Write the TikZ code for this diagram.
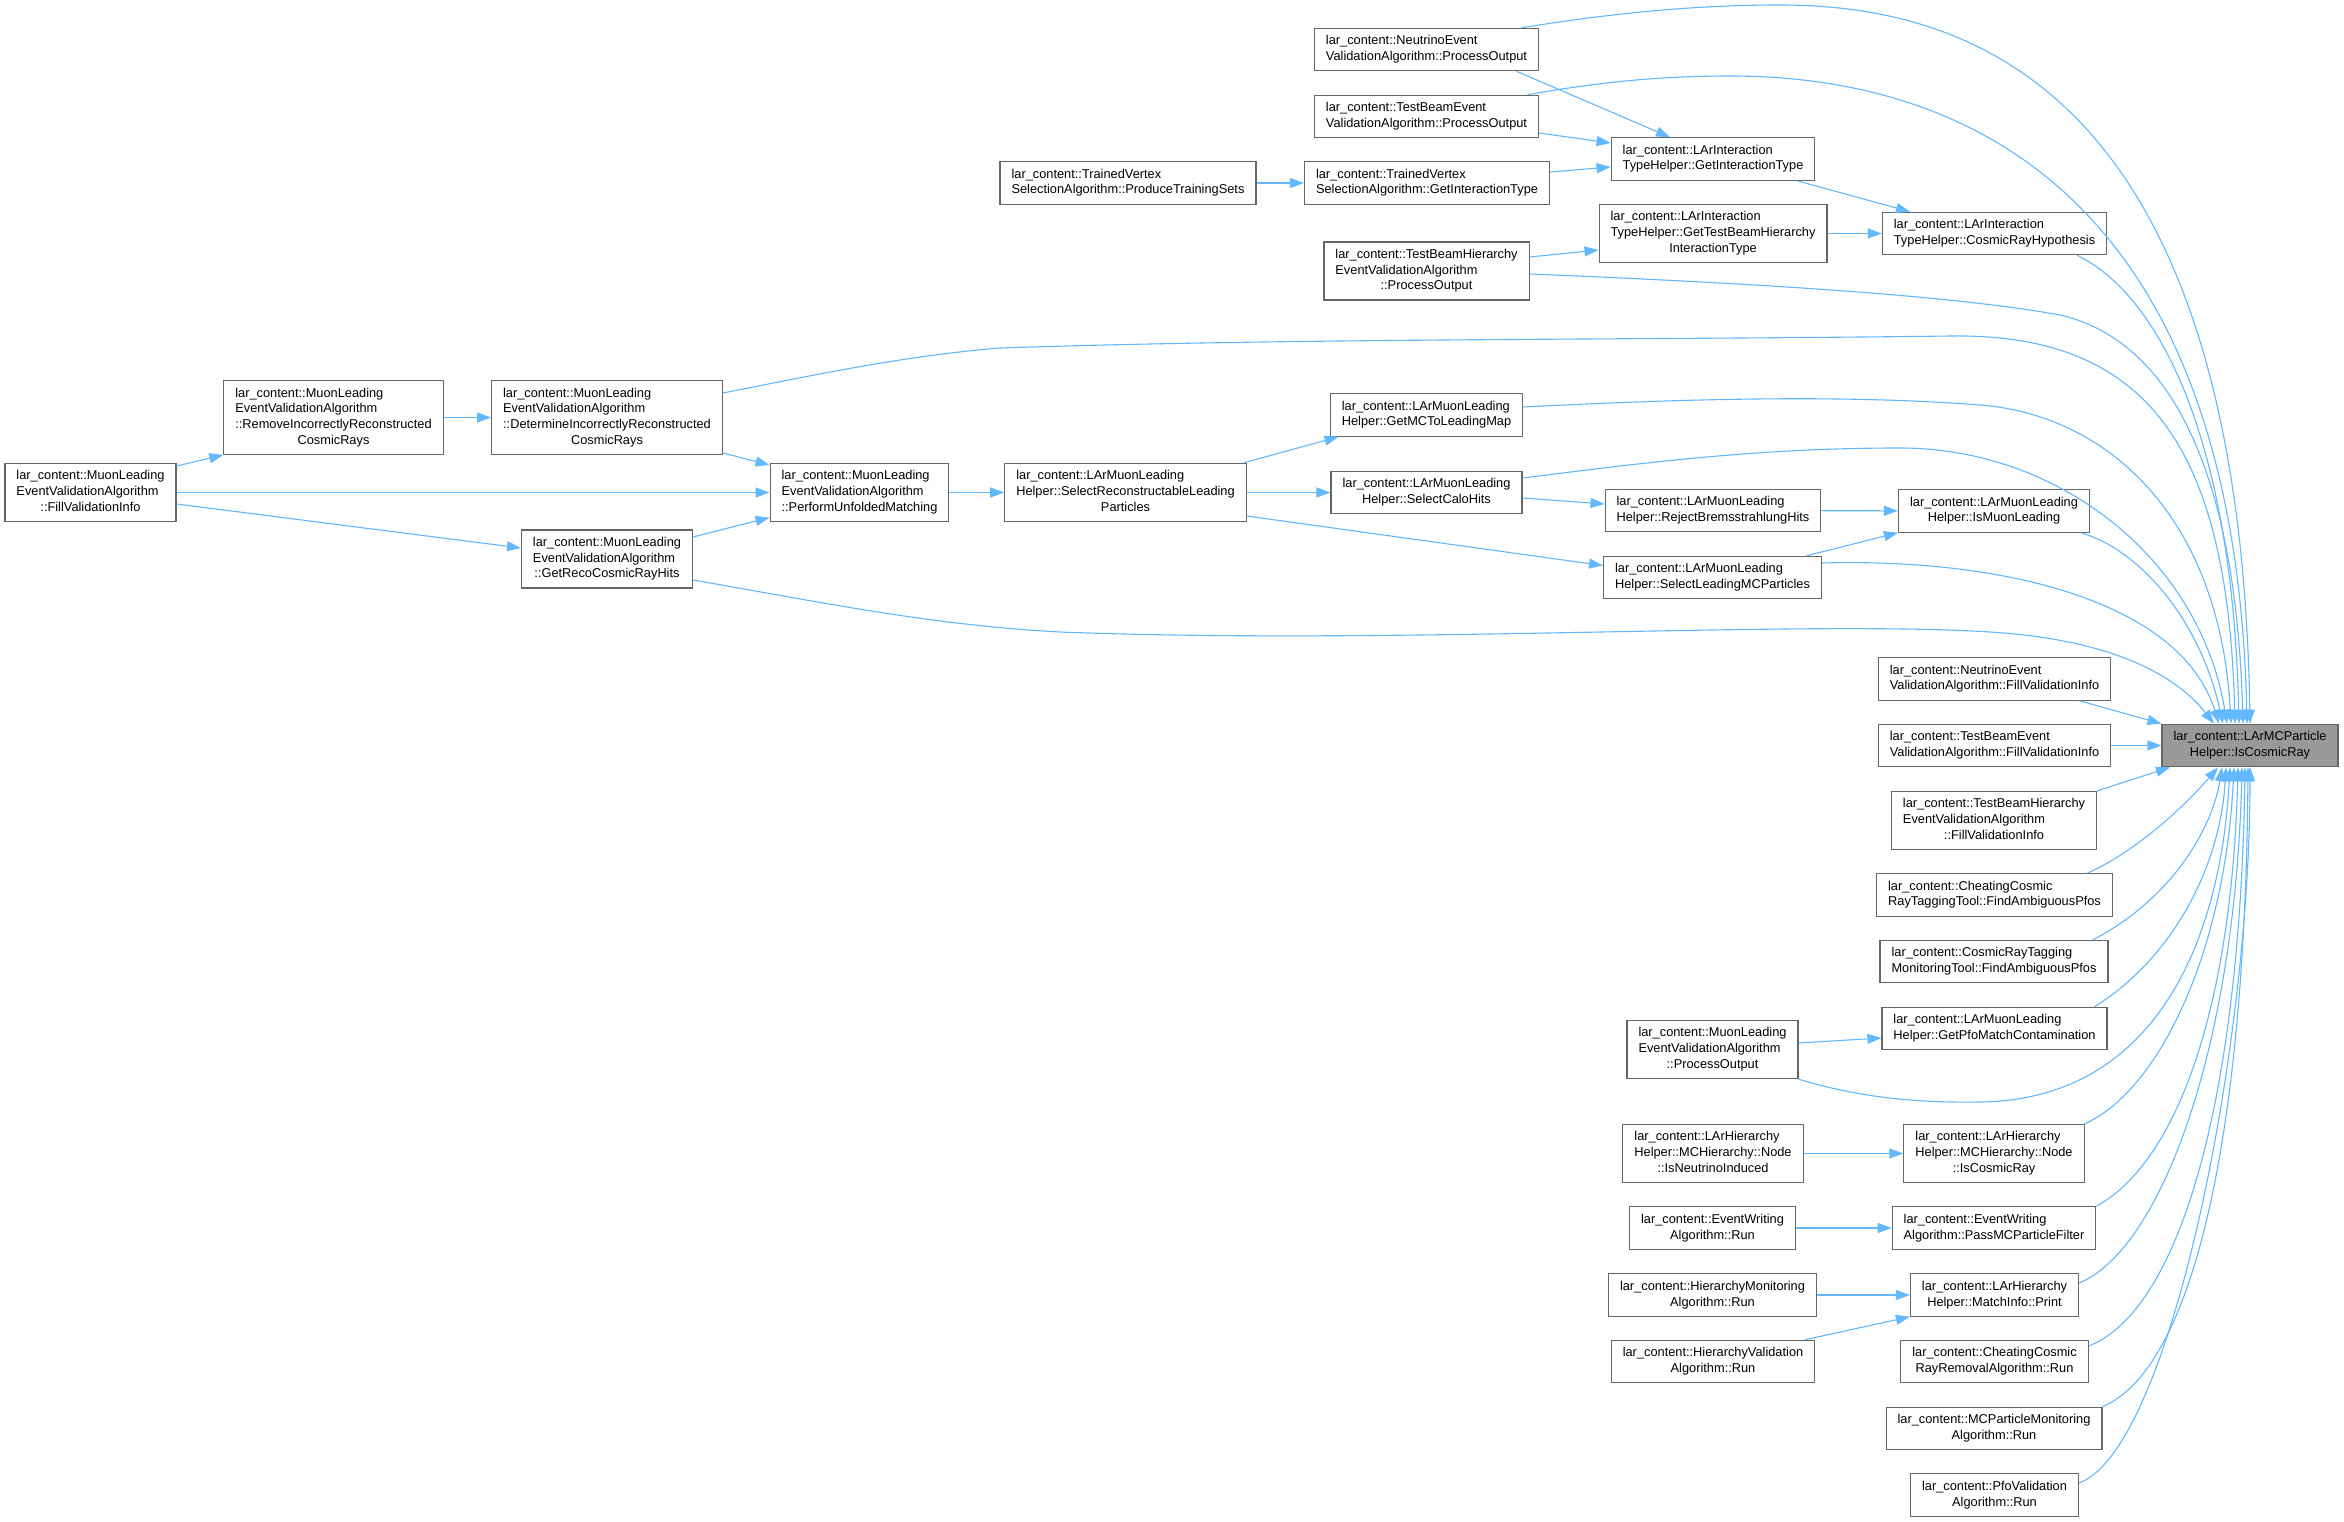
\documentclass[tikz,border=0pt]{standalone}
\usepackage{fontspec}
\setmainfont{Liberation Sans}
\usetikzlibrary{arrows.meta}
\definecolor{edgeblue}{HTML}{63B8FF}
\definecolor{boxgray}{HTML}{666666}
\definecolor{hitgray}{HTML}{999999}
\newcommand\lc{lar\_content::}
\newcommand\twolines[2]{\begin{tabular}{@{}l@{}}#1\\\multicolumn{1}{@{}c@{}}{#2}\end{tabular}}
\newcommand\threelines[3]{\begin{tabular}{@{}l@{}}#1\\#2\\\multicolumn{1}{@{}c@{}}{#3}\end{tabular}}
\newcommand\fourlines[4]{\begin{tabular}{@{}l@{}}#1\\#2\\#3\\\multicolumn{1}{@{}c@{}}{#4}\end{tabular}}

\begin{document}
\begin{tikzpicture}[
    x=1pt, y=-1pt,
    fnbox/.style={
      draw=boxgray, line width=1.15pt, fill=white,
      inner xsep=11.5pt, inner ysep=5.5pt,
      font=\fontsize{12.8}{15.7}\selectfont
    },
    hitbox/.style={fnbox, fill=hitgray},
    callarrow/.style={
      draw=edgeblue, line width=1.1pt,
      -{Triangle[length=14pt,width=10pt]}
    }
  ]
    \path[use as bounding box, fill=white] (0,0) rectangle (2344,1522);

    % the function itself
    \node[hitbox] (I) at (2250,745.5) {\twolines{\lc LArMCParticle}{Helper::IsCosmicRay}};

    % top block
    \node[fnbox] (nPO) at (1426.5,49.5) {\twolines{\lc NeutrinoEvent}{ValidationAlgorithm::ProcessOutput}};
    \node[fnbox] (tPO) at (1426.5,116.5) {\twolines{\lc TestBeamEvent}{ValidationAlgorithm::ProcessOutput}};
    \node[fnbox] (tvPT) at (1128,183) {\twolines{\lc TrainedVertex}{SelectionAlgorithm::ProduceTrainingSets}};
    \node[fnbox] (tvGIT) at (1427,183) {\twolines{\lc TrainedVertex}{SelectionAlgorithm::GetInteractionType}};
    \node[fnbox] (tbhPO) at (1426.5,271) {\threelines{\lc TestBeamHierarchy}{EventValidationAlgorithm}{::ProcessOutput}};
    \node[fnbox] (iGIT) at (1713,159) {\twolines{\lc LArInteraction}{TypeHelper::GetInteractionType}};
    \node[fnbox] (iGTB) at (1713,233.5) {\threelines{\lc LArInteraction}{TypeHelper::GetTestBeamHierarchy}{InteractionType}};
    \node[fnbox] (iCRH) at (1994.5,233.5) {\twolines{\lc LArInteraction}{TypeHelper::CosmicRayHypothesis}};

    % muon leading block
    \node[fnbox] (mRIR) at (333.5,417.5) {\fourlines{\lc MuonLeading}{EventValidationAlgorithm}{::RemoveIncorrectlyReconstructed}{CosmicRays}};
    \node[fnbox] (mDIR) at (607,417.5) {\fourlines{\lc MuonLeading}{EventValidationAlgorithm}{::DetermineIncorrectlyReconstructed}{CosmicRays}};
    \node[fnbox] (mFVI) at (90.5,492.5) {\threelines{\lc MuonLeading}{EventValidationAlgorithm}{::FillValidationInfo}};
    \node[fnbox] (mPUM) at (859.5,492.5) {\threelines{\lc MuonLeading}{EventValidationAlgorithm}{::PerformUnfoldedMatching}};
    \node[fnbox] (mGRC) at (607,559) {\threelines{\lc MuonLeading}{EventValidationAlgorithm}{::GetRecoCosmicRayHits}};
    \node[fnbox] (hSRL) at (1125.5,492.5) {\threelines{\lc LArMuonLeading}{Helper::SelectReconstructableLeading}{Particles}};
    \node[fnbox] (hGML) at (1426.5,415) {\twolines{\lc LArMuonLeading}{Helper::GetMCToLeadingMap}};
    \node[fnbox] (hSCH) at (1426.5,492.5) {\twolines{\lc LArMuonLeading}{Helper::SelectCaloHits}};
    \node[fnbox] (hRBH) at (1713,510.5) {\twolines{\lc LArMuonLeading}{Helper::RejectBremsstrahlungHits}};
    \node[fnbox] (hSLM) at (1712.5,577.5) {\twolines{\lc LArMuonLeading}{Helper::SelectLeadingMCParticles}};
    \node[fnbox] (hIML) at (1994,511) {\twolines{\lc LArMuonLeading}{Helper::IsMuonLeading}};

    % right column
    \node[fnbox] (nFVI) at (1994.5,679) {\twolines{\lc NeutrinoEvent}{ValidationAlgorithm::FillValidationInfo}};
    \node[fnbox] (tFVI) at (1994.5,745.5) {\twolines{\lc TestBeamEvent}{ValidationAlgorithm::FillValidationInfo}};
    \node[fnbox] (tbhFVI) at (1994,820.5) {\threelines{\lc TestBeamHierarchy}{EventValidationAlgorithm}{::FillValidationInfo}};
    \node[fnbox] (ccFAP) at (1994.5,895) {\twolines{\lc CheatingCosmic}{RayTaggingTool::FindAmbiguousPfos}};
    \node[fnbox] (crtFAP) at (1994,961.5) {\twolines{\lc CosmicRayTagging}{MonitoringTool::FindAmbiguousPfos}};
    \node[fnbox] (hPMC) at (1994.5,1028.5) {\twolines{\lc LArMuonLeading}{Helper::GetPfoMatchContamination}};
    \node[fnbox] (mPO) at (1712.5,1049.5) {\threelines{\lc MuonLeading}{EventValidationAlgorithm}{::ProcessOutput}};
    \node[fnbox] (lhNCR) at (1994,1153.5) {\threelines{\lc LArHierarchy}{Helper::MCHierarchy::Node}{::IsCosmicRay}};
    \node[fnbox] (lhNNI) at (1713,1153.5) {\threelines{\lc LArHierarchy}{Helper::MCHierarchy::Node}{::IsNeutrinoInduced}};
    \node[fnbox] (ewPMF) at (1994,1228) {\twolines{\lc EventWriting}{Algorithm::PassMCParticleFilter}};
    \node[fnbox] (ewRun) at (1712.5,1228) {\twolines{\lc EventWriting}{Algorithm::Run}};
    \node[fnbox] (lhMIP) at (1994.5,1295) {\twolines{\lc LArHierarchy}{Helper::MatchInfo::Print}};
    \node[fnbox] (hmRun) at (1712.5,1295) {\twolines{\lc HierarchyMonitoring}{Algorithm::Run}};
    \node[fnbox] (hvRun) at (1713,1361.5) {\twolines{\lc HierarchyValidation}{Algorithm::Run}};
    \node[fnbox] (crRun) at (1994.5,1361.5) {\twolines{\lc CheatingCosmic}{RayRemovalAlgorithm::Run}};
    \node[fnbox] (mcRun) at (1994,1428.5) {\twolines{\lc MCParticleMonitoring}{Algorithm::Run}};
    \node[fnbox] (pvRun) at (1994.5,1495) {\twolines{\lc PfoValidation}{Algorithm::Run}};

    % straight calls
    \draw[callarrow] ([xshift=90pt]nPO.south) -- ([xshift=-43pt]iGIT.north);
    \draw[callarrow] ([yshift=-16.5pt]tPO.east) -- ([yshift=16pt]iGIT.west);
    \draw[callarrow] ([yshift=11pt]tvGIT.east) -- ([yshift=-8pt]iGIT.west);
    \draw[callarrow] (tvPT) -- (tvGIT);
    \draw[callarrow] ([yshift=14pt]tbhPO.east) -- ([yshift=-16.5pt]iGTB.west);
    \draw[callarrow] ([xshift=84pt]iGIT.south) -- ([xshift=-84.5pt]iCRH.north);
    \draw[callarrow] (iGTB) -- (iCRH);
    \draw[callarrow] ([yshift=26.5pt]mFVI.east) -- (mRIR.south west);
    \draw[callarrow] (mFVI) -- (mPUM);
    \draw[callarrow] ([yshift=-11.5pt]mFVI.east) -- ([yshift=11pt]mGRC.west);
    \draw[callarrow] (mRIR) -- (mDIR);
    \draw[callarrow] ([yshift=-35.5pt]mDIR.east) -- ([yshift=27.5pt]mPUM.west);
    \draw[callarrow] ([yshift=22pt]mGRC.east) -- ([yshift=-25pt]mPUM.west);
    \draw[callarrow] (mPUM) -- (hSRL);
    \draw[callarrow] ([xshift=118pt]hSRL.north) -- ([xshift=-88pt]hGML.south);
    \draw[callarrow] (hSRL) -- (hSCH);
    \draw[callarrow] ([yshift=-23.5pt]hSRL.east) -- ([yshift=12pt]hSLM.west);
    \draw[callarrow] ([yshift=-5.5pt]hSCH.east) -- ([yshift=6.5pt]hRBH.west);
    \draw[callarrow] (hRBH) -- (hIML);
    \draw[callarrow] ([xshift=94pt]hSLM.north) -- (hIML.south west);
    \draw[callarrow] ([yshift=6.5pt]mPO.east) -- ([yshift=-9.5pt]hPMC.west);
    \draw[callarrow] (lhNNI) -- (lhNCR);
    \draw[callarrow] (ewRun) -- (ewPMF);
    \draw[callarrow] (hmRun) -- (lhMIP);
    \draw[callarrow] ([xshift=92pt]hvRun.north) -- (lhMIP.south west);
    \draw[callarrow] ([xshift=85pt]nFVI.south) -- (I.north west);
    \draw[callarrow] (tFVI) -- (I);
    \draw[callarrow] (tbhFVI.north east) -- ([xshift=-80pt]I.south);

    % curved calls from above
    \draw[callarrow] ([xshift=95pt]nPO.north) .. controls (1620,12) and (1700,5) .. (1780,5)
      .. controls (1980,5) and (2240,100) .. (I.north);
    \draw[callarrow] ([xshift=101pt]tPO.north) .. controls (1600,82) and (1660,76) .. (1730,76)
      .. controls (1950,76) and (2235,180) .. ([xshift=-3pt]I.north);
    \draw[callarrow] ([yshift=-3pt]tbhPO.east) .. controls (1750,283) and (1950,295) .. (2060,315)
      .. controls (2160,338) and (2235,450) .. ([xshift=-7pt]I.north);
    \draw[callarrow] ([xshift=82.5pt]iCRH.south) .. controls (2150,290) and (2232,420) .. ([xshift=-11pt]I.north);
    \draw[callarrow] ([yshift=24.5pt]mDIR.east) .. controls (800,378) and (900,356) .. (1000,348)
      .. controls (1300,338) and (1650,340) .. (1950,336)
      .. controls (2150,333) and (2228,450) .. ([xshift=-15pt]I.north);
    \draw[callarrow] ([yshift=8pt]hGML.east) .. controls (1700,398) and (1850,395) .. (1980,405)
      .. controls (2110,415) and (2220,520) .. ([xshift=-19pt]I.north);
    \draw[callarrow] ([yshift=14.5pt]hSCH.east) .. controls (1650,462) and (1760,448) .. (1900,448)
      .. controls (2060,448) and (2200,560) .. ([xshift=-23pt]I.north);
    \draw[callarrow] ([xshift=87pt]hIML.south) .. controls (2140,550) and (2200,620) .. ([xshift=-27pt]I.north);
    \draw[callarrow] ([yshift=14.5pt]hSLM.east) .. controls (2000,558) and (2180,600) .. ([xshift=-31pt]I.north);
    \draw[callarrow] ([yshift=-21pt]mGRC.east) .. controls (820,602) and (930,625) .. (1060,632)
      .. controls (1400,645) and (1800,620) .. (1990,632)
      .. controls (2120,640) and (2180,680) .. ([xshift=-36pt]I.north);

    % curved calls from below
    \draw[callarrow] ([xshift=92.5pt]ccFAP.north) .. controls (2140,850) and (2190,800) .. ([xshift=-32pt]I.south);
    \draw[callarrow] ([xshift=99pt]crtFAP.north) .. controls (2170,900) and (2212,830) .. ([xshift=-28pt]I.south);
    \draw[callarrow] ([xshift=100pt]hPMC.north) .. controls (2170,960) and (2220,870) .. ([xshift=-24pt]I.south);
    \draw[callarrow] (mPO.south east) .. controls (1860,1098) and (1920,1103) .. (1980,1102)
      .. controls (2150,1100) and (2220,950) .. ([xshift=-20pt]I.south);
    \draw[callarrow] (lhNCR.north east) .. controls (2160,1090) and (2225,950) .. ([xshift=-16pt]I.south);
    \draw[callarrow] (ewPMF.north east) .. controls (2180,1160) and (2232,1000) .. ([xshift=-12pt]I.south);
    \draw[callarrow] ([yshift=12pt]lhMIP.east) .. controls (2160,1250) and (2235,1050) .. ([xshift=-8pt]I.south);
    \draw[callarrow] ([yshift=15.5pt]crRun.east) .. controls (2180,1310) and (2240,1100) .. ([xshift=-5pt]I.south);
    \draw[callarrow] (mcRun.north east) .. controls (2190,1370) and (2245,1150) .. ([xshift=-2pt]I.south);
    \draw[callarrow] ([yshift=12pt]pvRun.east) .. controls (2170,1450) and (2250,1050) .. (I.south);
  \end{tikzpicture}
\end{document}
